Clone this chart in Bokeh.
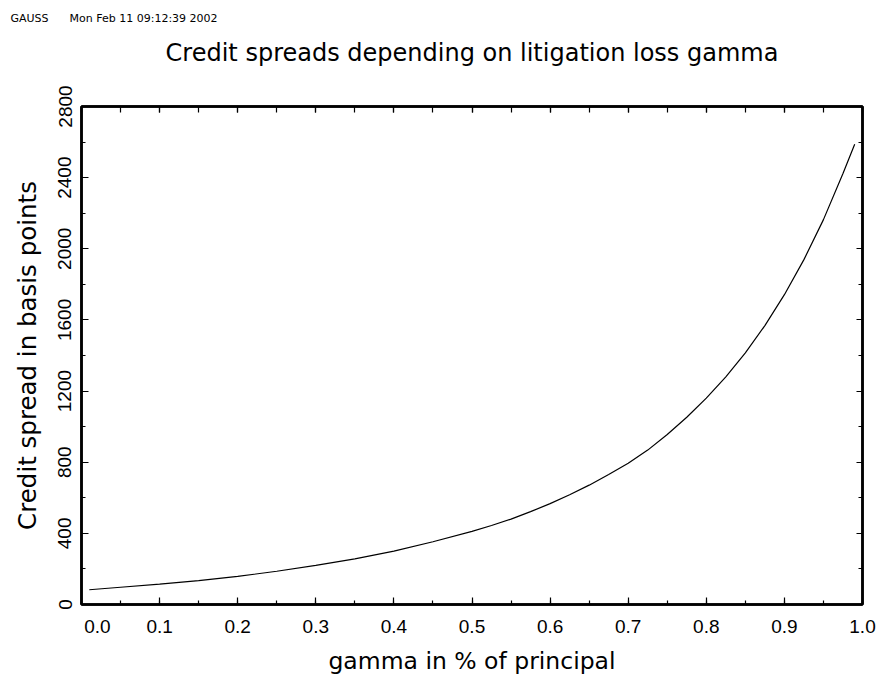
from bokeh.plotting import figure
from bokeh.models import (LinearAxis, SingleIntervalTicker, Range1d, Title,
                          CustomJSTickFormatter, PrintfTickFormatter)
from bokeh.embed import file_html
from bokeh.resources import INLINE

# ---- data ----
gamma = [0.01, 0.05, 0.10, 0.15, 0.20, 0.25, 0.30, 0.35, 0.40, 0.45, 0.50,
         0.525, 0.55, 0.575, 0.60, 0.625, 0.65, 0.675, 0.70, 0.725, 0.75,
         0.775, 0.80, 0.825, 0.85, 0.875, 0.90, 0.925, 0.95, 0.975, 0.99]
spread = [83, 97, 115, 134, 158, 187, 220, 257, 300, 353, 411,
          444, 480, 522, 567, 617, 671, 731, 794, 868, 956,
          1053, 1160, 1280, 1415, 1568, 1742, 1939, 2164, 2423, 2588]

title_text = "Credit spreads depending on litigation loss gamma"
header_text = "GAUSS" + "\u00a0" * 6 + "Mon Feb 11 09:12:39 2002"
x_label = "gamma in % of principal"
y_label = "Credit spread in basis points"

p = figure(width=880, height=677, output_backend="svg", toolbar_location=None,
           x_range=Range1d(0, 1.0), y_range=Range1d(0, 2800),
           min_border_left=81, min_border_right=18, min_border_top=106,
           min_border_bottom=73, x_axis_location=None, y_axis_location=None)
p.title = None
p.grid.visible = False
p.background_fill_color = "white"
p.border_fill_color = "white"
p.outline_line_color = "black"
p.outline_line_width = 2.5

tick_font = "Liberation Sans"
label_font = "DejaVu Sans"


def style(ax, labels=True):
    ax.axis_line_color = "black"
    ax.axis_line_width = 2.5
    ax.major_tick_in = 7
    ax.major_tick_out = 0
    ax.minor_tick_in = 4
    ax.minor_tick_out = 0
    ax.major_tick_line_color = "black"
    ax.minor_tick_line_color = "black"
    ax.major_tick_line_width = 1.2
    ax.minor_tick_line_width = 1.2
    ax.major_label_text_font = tick_font
    ax.major_label_text_font_size = "19px"
    ax.major_label_text_color = "black"
    ax.axis_label_text_font = label_font
    ax.axis_label_text_font_size = "23.5px"
    ax.axis_label_text_font_style = "normal"
    ax.axis_label_text_color = "black"
    if not labels:
        ax.formatter = CustomJSTickFormatter(code="return ''")
        ax.major_label_text_font_size = "1px"
        ax.major_label_standoff = 0


xt = SingleIntervalTicker(interval=0.1, num_minor_ticks=2)
yt = SingleIntervalTicker(interval=400, num_minor_ticks=2)

bx = LinearAxis(ticker=xt, axis_label=x_label, formatter=PrintfTickFormatter(format="%.1f"))
style(bx)
bx.major_label_standoff = 11
bx.axis_label_standoff = 7
bx.major_label_overrides = {0: "\u00a0\u00a0\u00a0\u00a0\u00a0\u00a00.0"}
p.add_layout(bx, "below")

ly = LinearAxis(ticker=yt, axis_label=y_label)
style(ly)
ly.axis_label_text_font_size = "24.5px"
ly.major_label_orientation = "vertical"
ly.major_label_standoff = 10
ly.axis_label_standoff = 14
p.add_layout(ly, "left")

# top axis: inward ticks only, and it carries the chart title as its label
tx = LinearAxis(ticker=SingleIntervalTicker(interval=0.1, num_minor_ticks=2))
style(tx, labels=False)
tx.major_tick_in = 6
tx.minor_tick_in = 6
tx.axis_label = title_text
tx.axis_label_text_font_size = "24px"
tx.axis_label_standoff = 40
p.add_layout(tx, "above")

ry = LinearAxis(ticker=SingleIntervalTicker(interval=400, num_minor_ticks=2))
style(ry, labels=False)
ry.major_tick_in = 6
ry.minor_tick_in = 4
p.add_layout(ry, "right")

p.line(gamma, spread, line_color="black", line_width=1.2)

p.add_layout(Title(text=header_text, align="left", offset=-71,
                   vertical_align="top",
                   text_font=label_font, text_font_size="11px",
                   text_font_style="normal", text_color="black",
                   standoff=18), "above")

open("out.html", "w").write(file_html(p, INLINE))
